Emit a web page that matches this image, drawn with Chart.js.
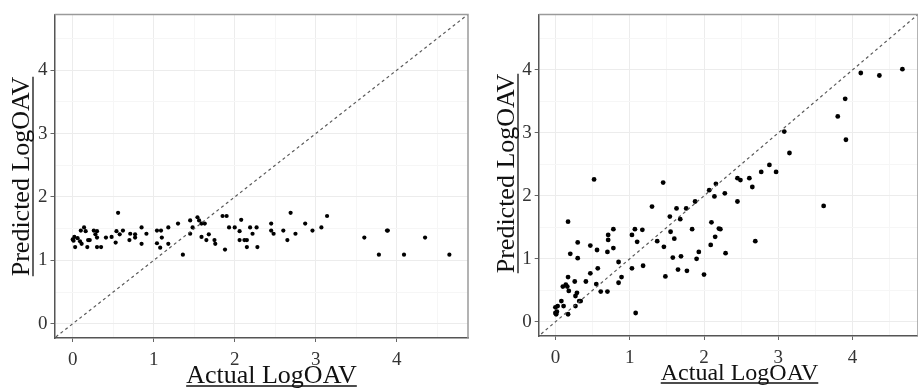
<!DOCTYPE html>
<html>
<head>
<meta charset="utf-8">
<script src="https://cdn.jsdelivr.net/npm/chart.js@4.4.1/dist/chart.umd.min.js"></script>
<style>
  html, body { margin: 0; padding: 0; background: #fff; overflow: hidden; width: 918px; height: 388px; }
  .panel { position: absolute; top: 0; height: 388px; }
  #leftBox { left: 0; width: 478px; }
  #rightBox { left: 478px; width: 444px; }
</style>
</head>
<body>
<div class="panel" id="leftBox"><canvas id="leftChart" width="478" height="388"></canvas></div>
<div class="panel" id="rightBox"><canvas id="rightChart" width="444" height="388"></canvas></div>
<script>
// left panel: actual vs predicted
const leftActual = [0, 0.01, 0.03, 0.02, 0.06, 0.09, 0.11, 0.10, 0.14, 0.16, 0.18, 0.19, 0.21, 0.26, 0.28, 0.30, 0.30, 0.30, 0.35, 0.41,
  0.48, 0.53, 0.54, 0.56, 0.58, 0.62, 0.70, 0.71, 0.77, 0.77, 0.85, 0.85, 0.91, 1.04, 1.04, 1.08, 1.09, 1.10, 1.18, 1.18,
  1.30, 1.36, 1.45, 1.45, 1.48, 1.54, 1.56, 1.59, 1.63, 1.59, 1.65, 1.68, 1.75, 1.76, 1.85, 1.90, 1.88, 1.93, 2.00, 2.08,
  2.06, 2.06, 2.12, 2.15, 2.15, 2.19, 2.22, 2.27, 2.28, 2.45, 2.45, 2.48, 2.60, 2.65, 2.69, 2.75, 2.87, 2.96, 3.07, 3.14,
  3.60, 3.78, 3.88, 3.89, 4.09, 4.35, 4.65];
const leftPredicted = [1.33, 1.31, 1.21, 1.37, 1.35, 1.30, 1.26, 1.47, 1.52, 1.46, 1.21, 1.32, 1.32, 1.47, 1.41, 1.46, 1.36, 1.21, 1.21, 1.36,
  1.37, 1.28, 1.46, 1.75, 1.41, 1.47, 1.32, 1.42, 1.41, 1.36, 1.52, 1.26, 1.42, 1.47, 1.27, 1.20, 1.47, 1.36, 1.52, 1.26,
  1.58, 1.09, 1.63, 1.42, 1.52, 1.68, 1.63, 1.58, 1.58, 1.37, 1.32, 1.41, 1.32, 1.26, 1.70, 1.70, 1.17, 1.52, 1.52, 1.64,
  1.46, 1.32, 1.32, 1.32, 1.21, 1.52, 1.42, 1.52, 1.21, 1.58, 1.47, 1.42, 1.47, 1.32, 1.75, 1.42, 1.58, 1.47, 1.52, 1.70,
  1.36, 1.09, 1.47, 1.47, 1.09, 1.36, 1.09];

// right panel: actual vs predicted
const rightActual = [0.00, 0.01, 0.02, 0.00, 0.03, 0.08, 0.11, 0.10, 0.14, 0.17, 0.17, 0.18, 0.16, 0.17, 0.20, 0.26, 0.27, 0.27, 0.29, 0.30,
  0.30, 0.32, 0.34, 0.41, 0.47, 0.47, 0.52, 0.55, 0.56, 0.57, 0.61, 0.70, 0.70, 0.71, 0.71, 0.78, 0.78, 0.85, 0.85, 0.89,
  1.03, 1.03, 1.07, 1.08, 1.10, 1.17, 1.18, 1.30, 1.37, 1.45, 1.46, 1.48, 1.54, 1.55, 1.60, 1.58, 1.63, 1.65, 1.68, 1.69,
  1.76, 1.77, 1.84, 1.88, 1.90, 1.93, 2.00, 2.07, 2.09, 2.10, 2.14, 2.15, 2.16, 2.20, 2.22, 2.28, 2.29, 2.45, 2.45, 2.49,
  2.61, 2.65, 2.69, 2.77, 2.88, 2.97, 3.08, 3.15, 3.61, 3.80, 3.90, 3.91, 4.11, 4.36, 4.67];
const rightPredicted = [0.14, 0.12, 0.16, 0.23, 0.25, 0.33, 0.25, 0.56, 0.59, 0.12, 0.71, 0.49, 0.56, 1.59, 1.08, 0.64, 0.25, 0.41, 0.46, 1.26,
  1.01, 0.33, 0.33, 0.64, 0.77, 1.21, 2.26, 0.60, 1.14, 0.85, 0.48, 0.48, 1.11, 1.38, 1.30, 1.17, 1.47, 0.62, 0.95, 0.71,
  0.85, 1.38, 1.47, 0.14, 1.27, 1.46, 0.89, 1.83, 1.28, 2.21, 1.19, 0.72, 1.67, 1.43, 1.32, 1.02, 1.80, 0.83, 1.63, 1.04,
  1.80, 0.81, 1.47, 1.91, 1.00, 1.11, 0.75, 2.09, 1.22, 1.58, 1.99, 1.35, 2.19, 1.48, 1.47, 2.04, 1.09, 2.28, 1.91, 2.25,
  2.28, 2.14, 1.28, 2.38, 2.49, 2.38, 3.02, 2.68, 1.84, 3.26, 3.54, 2.89, 3.95, 3.91, 4.01];

const tickValues = [0, 1, 2, 3, 4];
const refLine = [-0.5, 5.5];
const xTitle = "Actual LogOAV";
const yTitle = "Predicted LogOAV";

const serif = '"Liberation Serif", "Times New Roman", serif';

const titlesPlugin = {
  id: 'titles',
  afterDraw(chart, args, o) {
    const ctx = chart.ctx;
    ctx.save();
    ctx.fillStyle = '#111';
    ctx.strokeStyle = '#111';
    ctx.lineWidth = 1.3;
    ctx.textAlign = 'center';
    ctx.textBaseline = 'alphabetic';

    // x title
    ctx.font = o.xSize + 'px ' + serif;
    let w = ctx.measureText(xTitle).width;
    ctx.fillText(xTitle, o.xCenter, o.xBase);
    ctx.beginPath();
    ctx.moveTo(o.xCenter - w / 2, o.xBase + 3);
    ctx.lineTo(o.xCenter + w / 2, o.xBase + 3);
    ctx.stroke();

    // y title, rotated
    ctx.font = o.ySize + 'px ' + serif;
    w = ctx.measureText(yTitle).width;
    ctx.translate(o.yBase, o.yCenter);
    ctx.rotate(-Math.PI / 2);
    ctx.fillText(yTitle, 0, 0);
    ctx.beginPath();
    ctx.moveTo(-w / 2, 4);
    ctx.lineTo(w / 2, 4);
    ctx.stroke();
    ctx.restore();

    // top and right frame
    const a = chart.chartArea;
    ctx.save();
    ctx.strokeStyle = '#9a9a9a';
    ctx.lineWidth = 1.5;
    ctx.beginPath();
    ctx.moveTo(a.left, a.top);
    ctx.lineTo(a.right, a.top);
    ctx.lineTo(a.right, a.bottom);
    ctx.stroke();
    ctx.restore();
  }
};

function makeAxis(axisSize, isX) {
  return {
    type: 'linear',
    min: -0.225,
    max: 4.88,
    afterFit(scale) {
      if (isX) scale.height = axisSize; else scale.width = axisSize;
    },
    afterBuildTicks(scale) {
      const t = [];
      for (let v = 0; v <= 4.5; v += 0.5) t.push({ value: v });
      scale.ticks = t;
    },
    ticks: {
      autoSkip: false,
      includeBounds: false,
      maxRotation: 0,
      padding: isX ? 7 : 3,
      color: '#333',
      font: { family: serif, size: 19 },
      callback: (v) => tickValues.includes(v) ? String(v) : ''
    },
    grid: {
      color: (c) => (c.tick && Number.isInteger(c.tick.value)) ? '#ececec' : '#f6f6f6',
      tickColor: (c) => (c.tick && Number.isInteger(c.tick.value)) ? '#666' : 'rgba(0,0,0,0)',
      tickLength: 4,
      lineWidth: 1
    },
    border: { display: true, color: '#555', width: 1.5 }
  };
}

function lasXY(id, xs, ys, radius, yWidth, xHeight, titleOpts) {
  const pts = xs.map((x, i) => ({ x: x, y: ys[i] }));
  const ctx = document.getElementById(id).getContext('2d');
  return new Chart(ctx, {
    type: 'scatter',
    data: {
      datasets: [
        {
          type: 'line',
          data: refLine.map((v) => ({ x: v, y: v })),
          borderColor: '#5a5a5a',
          borderWidth: 1.2,
          borderDash: [3, 3],
          pointRadius: 0,
          fill: false
        },
        {
          data: pts,
          backgroundColor: '#000',
          borderColor: '#000',
          borderWidth: 0,
          pointRadius: radius
        }
      ]
    },
    options: {
      responsive: false,
      animation: false,
      layout: { padding: titleOpts.padding },
      plugins: {
        legend: { display: false },
        tooltip: { enabled: false },
        titles: titleOpts
      },
      scales: {
        x: makeAxis(xHeight, true),
        y: makeAxis(yWidth, false)
      }
    },
    plugins: [titlesPlugin]
  });
}

lasXY('leftChart', leftActual, leftPredicted, 2.1, 54.5, 50, {
  padding: { left: 0, top: 12, right: 10, bottom: 0 },
  xSize: 26, xCenter: 271.5, xBase: 383,
  ySize: 26, yCenter: 176.5, yBase: 29
});

lasXY('rightChart', rightActual, rightPredicted, 2.4, 60.7, 52, {
  padding: { left: 0, top: 12, right: 0, bottom: 0 },
  xSize: 24, xCenter: 261.5, xBase: 380,
  ySize: 26, yCenter: 173.5, yBase: 36
});
</script>
</body>
</html>
